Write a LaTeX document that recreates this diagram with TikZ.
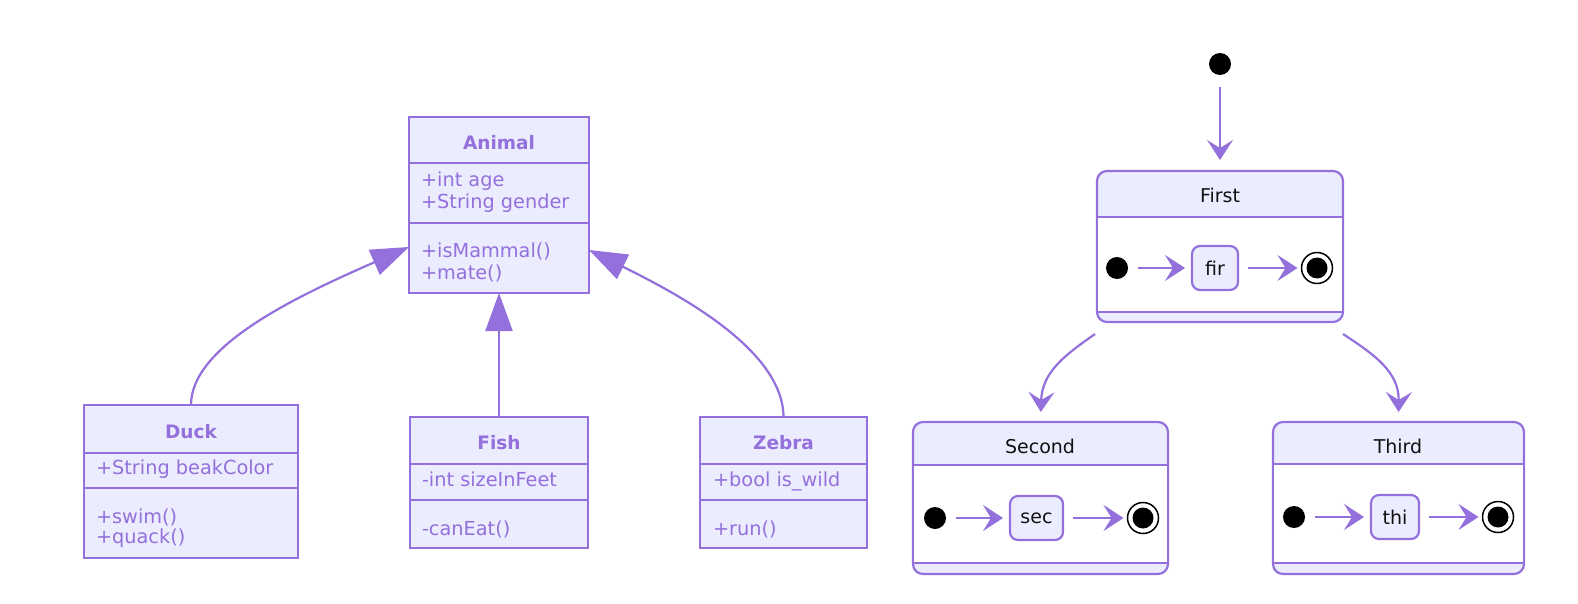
\documentclass[tikz,border=0pt]{standalone}
\usepackage{fontspec}
\setmainfont{DejaVu Sans}
\usetikzlibrary{arrows.meta,calc}
\definecolor{purp}{HTML}{9370DB}
\definecolor{lav}{HTML}{ECECFF}
\definecolor{ink}{HTML}{111111}
\begin{document}
\begin{tikzpicture}[x=1pt,y=-1pt,
 every node/.style={inner sep=0pt, outer sep=0pt},
 clsbox/.style={draw=purp, fill=lav, line width=2.2pt, anchor=north west},
 divider/.style={draw=purp, line width=2.2pt},
 clshead/.style={text=purp, font=\fontsize{18.5}{22}\selectfont\bfseries, anchor=base},
 clstext/.style={text=purp, font=\fontsize{19.3}{22}\selectfont, anchor=base west},
 inh/.style={draw=purp, line width=2.2pt, -{Triangle[length=38pt,width=27pt]}},
 stbox/.style={draw=purp, fill=lav, line width=2.2pt, rounded corners=10pt, anchor=north west},
 sttext/.style={text=ink, font=\fontsize{19}{22}\selectfont, anchor=base},
 innerbox/.style={draw=purp, fill=lav, line width=2.2pt, rounded corners=8pt, anchor=north west, text=ink, font=\fontsize{19}{22}\selectfont},
 trans/.style={draw=purp, line width=2.2pt, -{Stealth[length=20pt,width=26pt,inset=8pt]}},
 startdot/.style={circle, fill=black, minimum size=22pt},
 endring/.style={circle, draw=black, line width=1.5pt, fill=white, minimum size=31pt},
 enddisc/.style={circle, fill=black, minimum size=21pt},
]
\useasboundingbox (0,0) rectangle (1578,604);
\fill[white] (0,0) rectangle (1578,604);

% ---------------- class diagram ----------------
\node[clsbox, minimum width=180pt, minimum height=176pt] (animal) at (409,117) {};
\draw[divider] ($(animal.north west)+(0,46)$) -- ($(animal.north east)+(0,46)$);
\draw[divider] ($(animal.north west)+(0,106)$) -- ($(animal.north east)+(0,106)$);
\node[clshead] (animalT) at (499,150) {Animal};
\node[clstext] (animalA1) at (421,186) {+int age};
\node[clstext] (animalA2) at (421,208) {+String gender};
\node[clstext] (animalM1) at (421,257) {+isMammal()};
\node[clstext] (animalM2) at (421,279) {+mate()};

\node[clsbox, minimum width=214pt, minimum height=153pt] (duck) at (84,405) {};
\draw[divider] ($(duck.north west)+(0,48)$) -- ($(duck.north east)+(0,48)$);
\draw[divider] ($(duck.north west)+(0,83)$) -- ($(duck.north east)+(0,83)$);
\node[clshead] (duckT) at (191,438) {Duck};
\node[clstext] (duckA1) at (96,474) {+String beakColor};
\node[clstext] (duckM1) at (96,523) {+swim()};
\node[clstext] (duckM2) at (96,543) {+quack()};

\node[clsbox, minimum width=178pt, minimum height=131pt] (fish) at (410,417) {};
\draw[divider] ($(fish.north west)+(0,47)$) -- ($(fish.north east)+(0,47)$);
\draw[divider] ($(fish.north west)+(0,83)$) -- ($(fish.north east)+(0,83)$);
\node[clshead] (fishT) at (499,449) {Fish};
\node[clstext] (fishA1) at (422,486) {-int sizeInFeet};
\node[clstext] (fishM1) at (422,535) {-canEat()};

\node[clsbox, minimum width=167pt, minimum height=131pt] (zebra) at (700,417) {};
\draw[divider] ($(zebra.north west)+(0,47)$) -- ($(zebra.north east)+(0,47)$);
\draw[divider] ($(zebra.north west)+(0,83)$) -- ($(zebra.north east)+(0,83)$);
\node[clshead] (zebraT) at (783.5,449) {Zebra};
\node[clstext] (zebraA1) at (713,486) {+bool is\_wild};
\node[clstext] (zebraM1) at (713,535) {+run()};

\coordinate (aL) at ($(animal.north west)+(0,130)$);
\coordinate (aR) at ($(animal.north east)+(0,133)$);
\draw[inh] (duck.north) .. controls (191,345) and (300,295) .. (aL);
\draw[inh] (fish.north) -- (animal.south);
\draw[inh] (zebra.north) .. controls (783,350) and (680,295) .. (aR);

% ---------------- state diagram ----------------
\node[startdot] (init) at (1220,64) {};

\node[stbox, minimum width=246pt, minimum height=151pt] (first) at (1097,171) {};
\fill[white] ($(first.north west)+(1.1,46)$) rectangle ($(first.north east)+(-1.1,141)$);
\draw[divider] ($(first.north west)+(0,46)$) -- ($(first.north east)+(0,46)$);
\draw[divider] ($(first.north west)+(0,141)$) -- ($(first.north east)+(0,141)$);
\node[sttext] (firstT) at (1220,203) {First};
\node[startdot] (f0) at (1117,268) {};
\node[innerbox, minimum width=46pt, minimum height=44pt] (fir) at (1192,246) {fir};
\node[endring] (f1) at (1317,268) {};
\node[enddisc] (f1d) at (1317,268) {};
\draw[trans, shorten <=10pt, shorten >=7pt] (f0) -- (fir);
\draw[trans, shorten <=10pt, shorten >=4pt] (fir) -- (f1);

\node[stbox, minimum width=255pt, minimum height=152pt] (second) at (913,422) {};
\fill[white] ($(second.north west)+(1.1,43)$) rectangle ($(second.north east)+(-1.1,141)$);
\draw[divider] ($(second.north west)+(0,43)$) -- ($(second.north east)+(0,43)$);
\draw[divider] ($(second.north west)+(0,141)$) -- ($(second.north east)+(0,141)$);
\node[sttext] (secondT) at (1040,453) {Second};
\node[startdot] (s0) at (935,518) {};
\node[innerbox, minimum width=53pt, minimum height=44pt] (sec) at (1010,496) {sec};
\node[endring] (s1) at (1143,518) {};
\node[enddisc] (s1d) at (1143,518) {};
\draw[trans, shorten <=10pt, shorten >=7pt] (s0) -- (sec);
\draw[trans, shorten <=10pt, shorten >=4pt] (sec) -- (s1);

\node[stbox, minimum width=251pt, minimum height=152pt] (third) at (1273,422) {};
\fill[white] ($(third.north west)+(1.1,42)$) rectangle ($(third.north east)+(-1.1,141)$);
\draw[divider] ($(third.north west)+(0,42)$) -- ($(third.north east)+(0,42)$);
\draw[divider] ($(third.north west)+(0,141)$) -- ($(third.north east)+(0,141)$);
\node[sttext] (thirdT) at (1398,453) {Third};
\node[startdot] (t0) at (1294,517) {};
\node[innerbox, minimum width=48pt, minimum height=44pt] (thi) at (1371,495) {thi};
\node[endring] (t1) at (1498,517) {};
\node[enddisc] (t1d) at (1498,517) {};
\draw[trans, shorten <=10pt, shorten >=7pt] (t0) -- (thi);
\draw[trans, shorten <=10pt, shorten >=4pt] (thi) -- (t1);

\draw[trans, shorten <=12pt, shorten >=11pt] (init) -- (first.north);
\coordinate (fsL) at ($(first.south west)+(-2,12)$);
\coordinate (fsR) at ($(first.south east)+(0,12)$);
\draw[trans, shorten >=10pt] (fsL) .. controls (1065,355) and (1042,372) .. (second.north);
\draw[trans, shorten >=10pt] (fsR) .. controls (1375,355) and (1399,372) .. (third.north);
\end{tikzpicture}
\end{document}
